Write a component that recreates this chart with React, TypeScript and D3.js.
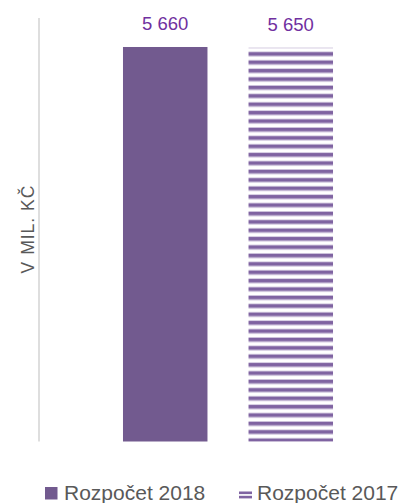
import React from "react";
import * as d3 from "d3";

const categories = ["Rozpočet 2018", "Rozpočet 2017"];
const values = [5660, 5650];
const valueLabels = ["5 660", "5 650"];
const yAxisTitle = "V MIL. KČ";

const W = 412;
const H = 503;
const FONT = "'Liberation Sans', Arial, sans-serif";
const SOLID = "#725A8F";
const STRIPE = "#7F63A1";
const STRIPE_EDGE = "#B9AACD";
const LABEL = "#7030A0";
const GREY = "#595959";

export default function App() {
  const x = d3
    .scaleBand<string>()
    .domain(categories)
    .range([39, 417])
    .paddingInner(0.327)
    .paddingOuter(0.669);
  const y = d3.scaleLinear().domain([0, 6076]).range([441.5, 18]);
  const bw = x.bandwidth();

  return (
    <svg
      width={W}
      height={H}
      style={{ position: "absolute", left: 0, top: 0 }}
      fontFamily={FONT}
    >
      <defs>
        <pattern
          id="hstripes"
          patternUnits="userSpaceOnUse"
          x={0}
          y={52.3}
          width={8}
          height={8.4}
        >
          <rect x={0} y={-0.6} width={8} height={0.6} fill={STRIPE_EDGE} />
          <rect x={0} y={0} width={8} height={3.5} fill={STRIPE} />
          <rect x={0} y={3.5} width={8} height={0.7} fill={STRIPE_EDGE} />
          <rect x={0} y={7.8} width={8} height={0.6} fill={STRIPE_EDGE} />
        </pattern>
      </defs>
      <rect x={0} y={0} width={W} height={H} fill="#fff" />
      {/* vertical axis line */}
      <line
        x1={39}
        x2={39}
        y1={y.range()[1]}
        y2={y(0)}
        stroke="#D9D9D9"
        strokeWidth={1.7}
      />
      {categories.map((c, i) => (
        <rect
          key={c}
          x={x(c)}
          y={y(values[i])}
          width={bw}
          height={y(0) - y(values[i])}
          fill={i === 0 ? SOLID : "url(#hstripes)"}
        />
      ))}
      {categories.map((c, i) => (
        <text
          key={"l" + c}
          x={(x(c) as number) + bw / 2}
          y={y(values[i]) - 17}
          textAnchor="middle"
          fontSize={18.5}
          fill={LABEL}
        >
          {valueLabels[i]}
        </text>
      ))}
      <text
        transform={`translate(34,229) rotate(-90)`}
        textAnchor="middle"
        fontSize={17.5}
        letterSpacing={1}
        fill={GREY}
      >
        {yAxisTitle}
      </text>
      {/* legend */}
      <rect x={45} y={487} width={12.5} height={12.5} fill={SOLID} />
      <text x={64} y={499.5} fontSize={21} fill={GREY}>
        {categories[0]}
      </text>
      <rect x={239} y={491.5} width={13} height={2.6} fill={STRIPE} />
      <rect x={239} y={495.8} width={13} height={2.6} fill={STRIPE} />
      <text x={257} y={499.5} fontSize={21} fill={GREY}>
        {categories[1]}
      </text>
    </svg>
  );
}
